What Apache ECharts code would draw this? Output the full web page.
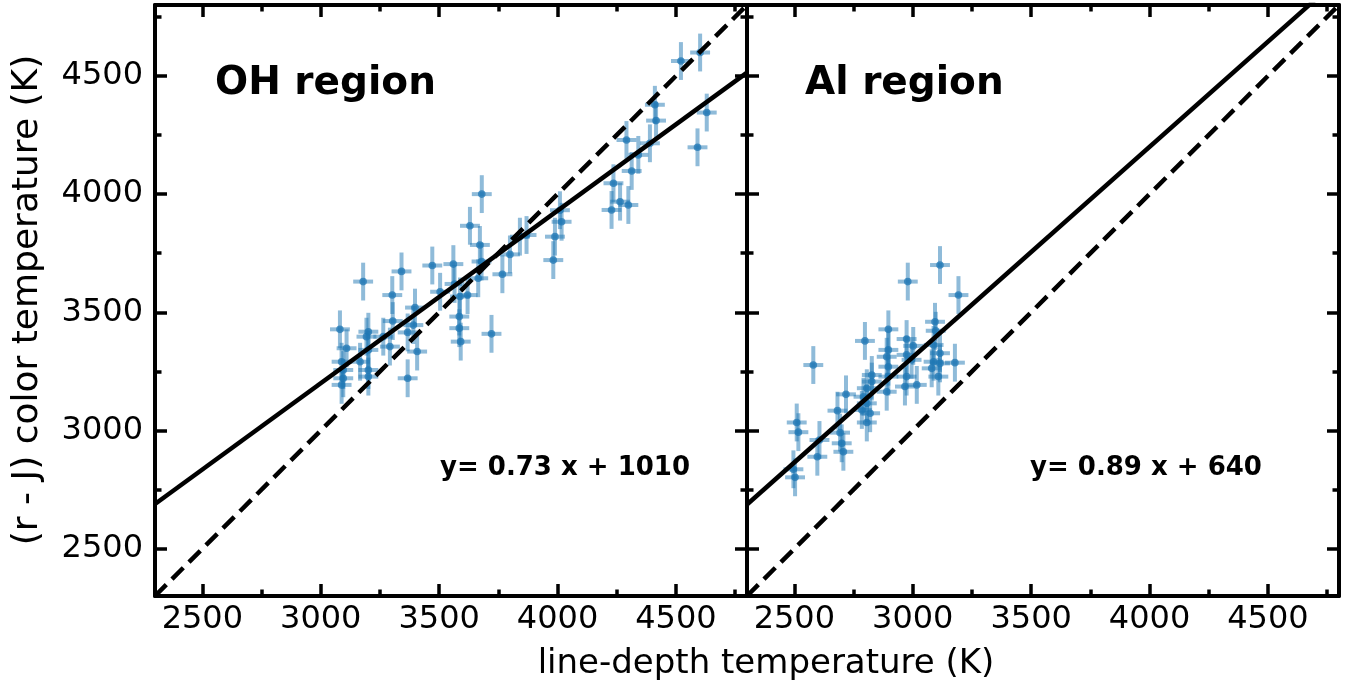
<!DOCTYPE html>
<html>
<head>
<meta charset="utf-8">
<script src="https://cdn.jsdelivr.net/npm/echarts@6/dist/echarts.min.js"></script>
<style>html,body{margin:0;padding:0;background:#fff}#chart{width:1350px;height:691px}</style>
</head>
<body>
<div id="chart"></div>
<script>
// ---- data ----
const axisMin = 2300, axisMax = 4800;
const majorTicks = [2500, 3000, 3500, 4000, 4500];
const minorTicks = [2750, 3250, 3750, 4250, 4750];

const ohX = [3680,3630,3672,3679,3665,3560,3471,3341,3179,3302,3504,3565,3588,3620,3585,3585,3591,3721,3767,3799,3841,3869,4010,4017,3989,3982,3398,3391,3367,3407,3367,3292,3304,3264,3201,3193,3201,3166,3201,3201,3081,3109,3088,3095,3095,3088,4521,4602,4411,4416,4630,4591,4390,4291,4341,4313,4236,4264,4299,4228];
const ohY = [4000,3866,3785,3715,3644,3704,3698,3673,3630,3573,3587,3620,3567,3573,3482,3433,3376,3409,3661,3745,3820,3827,3932,3883,3820,3721,3520,3446,3415,3334,3221,3355,3463,3397,3418,3397,3341,3291,3256,3228,3428,3348,3291,3256,3221,3193,4563,4599,4378,4311,4345,4198,4215,4229,4166,4098,4046,3968,3954,3933];

const alX = [3115,2979,3193,2580,2798,2897,3094,3097,2974,3002,2897,2890,2897,2974,2995,3088,3115,3088,3115,3178,3080,3108,2974,3017,2967,2897,2890,2827,2827,2806,2792,2806,2785,2820,2806,2718,2682,2693,2700,2707,2606,2597,2510,2517,2496,2503];
const alY = [3700,3630,3573,3277,3379,3428,3460,3422,3387,3358,3341,3312,3270,3320,3299,3362,3327,3291,3284,3287,3263,3228,3228,3193,3186,3228,3164,3235,3207,3179,3143,3115,3087,3073,3034,3153,3084,2991,2946,2910,2960,2889,3034,2993,2836,2802];

const xErr = 42;   // K, horizontal error bar half-length
const yErr = 80;   // K, vertical error bar half-length

const ohFit = {slope: 0.73, intercept: 1010, label: 'y= 0.73 x + 1010', title: 'OH region'};
const alFit = {slope: 0.89, intercept: 640, label: 'y= 0.89 x + 640', title: 'Al region'};

const xTitle = 'line-depth temperature (K)';
const yTitle = '(r - J) color temperature (K)';

// ---- layout ----
const FONT = 'DejaVu Sans';
const grids = [
  {left: 155, top: 5, width: 592, height: 591},
  {left: 747, top: 5, width: 592, height: 591}
];
const frameW = 4, fitW = 4.5;

function axisPair(kind, gridIndex, position, withLabels) {
  const common = {
    type: 'value', gridIndex, position, min: axisMin, max: axisMax, scale: true,
    splitLine: {show: false}
  };
  const major = Object.assign({}, common, {
    axisLine: {show: true, onZero: false, lineStyle: {color: '#000', width: frameW}},
    axisTick: {show: true, inside: true, length: 12, lineStyle: {color: '#000', width: 3.5}, customValues: majorTicks},
    axisLabel: withLabels ? {show: true, customValues: majorTicks, formatter: v => String(v), color: '#000', fontFamily: FONT, fontSize: 32, margin: kind === 'x' ? 8 : 12} : {show: false}
  });
  const minor = Object.assign({}, common, {
    axisLine: {show: false},
    axisTick: {show: true, inside: true, length: 6.5, lineStyle: {color: '#000', width: 3.5}, customValues: minorTicks},
    axisLabel: {show: false}
  });
  return [major, minor];
}

const xAxes = [], yAxes = [];
grids.forEach((g, i) => {
  xAxes.push(...axisPair('x', i, 'bottom', true), ...axisPair('x', i, 'top', false));
  yAxes.push(...axisPair('y', i, 'left', i === 0), ...axisPair('y', i, 'right', false));
});

function errData(xs, ys) {
  return xs.map((x, i) => [x, ys[i], xErr, yErr]);
}

function renderErr(params, api) {
  const x = api.value(0), y = api.value(1), xe = api.value(2), ye = api.value(3);
  const c = api.coord([x, y]);
  const l = api.coord([x - xe, y]), r = api.coord([x + xe, y]);
  const t = api.coord([x, y + ye]), b = api.coord([x, y - ye]);
  const bar = {stroke: 'rgba(31,119,180,0.5)', lineWidth: 4};
  return {
    type: 'group',
    children: [
      {type: 'line', shape: {x1: l[0], y1: l[1], x2: r[0], y2: r[1]}, style: bar},
      {type: 'line', shape: {x1: t[0], y1: t[1], x2: b[0], y2: b[1]}, style: bar},
      {type: 'circle', shape: {cx: c[0], cy: c[1], r: 3.8}, style: {fill: 'rgba(31,119,180,0.75)'}}
    ]
  };
}

function panelSeries(i, xs, ys, fit) {
  const xi = i * 4, yi = i * 4;
  return [
    {type: 'custom', xAxisIndex: xi, yAxisIndex: yi, renderItem: renderErr, data: errData(xs, ys),
     encode: {x: 0, y: 1}, z: 2, clip: true},
    {type: 'line', xAxisIndex: xi, yAxisIndex: yi, showSymbol: false, symbol: 'none', clip: true, z: 3,
     data: [[axisMin, axisMin], [axisMax, axisMax]],
     lineStyle: {color: '#000', width: fitW, type: [16, 8]}},
    {type: 'line', xAxisIndex: xi, yAxisIndex: yi, showSymbol: false, symbol: 'none', clip: true, z: 3,
     data: [[axisMin, fit.slope * axisMin + fit.intercept], [axisMax, fit.slope * axisMax + fit.intercept]],
     lineStyle: {color: '#000', width: fitW}}
  ];
}

const chart = echarts.init(document.getElementById('chart'), null, {renderer: 'canvas'});
chart.setOption({
  animation: false,
  backgroundColor: '#fff',
  grid: grids,
  xAxis: xAxes,
  yAxis: yAxes,
  series: [...panelSeries(0, ohX, ohY, ohFit), ...panelSeries(1, alX, alY, alFit)],
  graphic: [
    {type: 'text', left: 215, top: 64, style: {text: ohFit.title, font: 'bold 39px "DejaVu Sans"', fill: '#000'}},
    {type: 'text', left: 805, top: 64, style: {text: alFit.title, font: 'bold 39px "DejaVu Sans"', fill: '#000'}},
    {type: 'text', left: 440, top: 455, style: {text: ohFit.label, font: 'bold 26px "DejaVu Sans"', fill: '#000'}},
    {type: 'text', left: 1030, top: 455, style: {text: alFit.label, font: 'bold 26px "DejaVu Sans"', fill: '#000'}},
    {type: 'text', x: 766, y: 664, style: {text: xTitle, font: '34px "DejaVu Sans"', fill: '#000', align: 'center', verticalAlign: 'middle'}},
    {type: 'text', x: 28, y: 300, rotation: Math.PI / 2, style: {text: yTitle, font: '36px "DejaVu Sans"', fill: '#000', align: 'center', verticalAlign: 'middle'}}
  ]
});
</script>
</body>
</html>
